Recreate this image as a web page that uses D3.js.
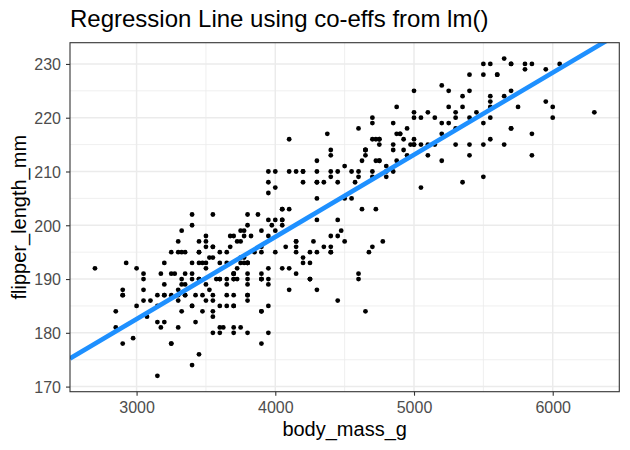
<!DOCTYPE html>
<html>
<head>
<meta charset="utf-8">
<script src="https://cdn.jsdelivr.net/npm/d3@7"></script>
<style>
  html, body { margin: 0; padding: 0; background: #fff; }
  svg { display: block; }
  text { font-family: "Liberation Sans", Arial, Helvetica, sans-serif; }
</style>
</head>
<body>
<svg id="chart" width="630" height="450"></svg>
<script>
// ---- data (Palmer penguins: body_mass_g vs flipper_length_mm) ----
const bodyMass = [
  3750,3800,3250,3450,3650,3625,4675,3475,4250,3300,3700,3200,3800,4400,3700,3450,4500,3325,4200,
  3400,3600,3800,3950,3800,3800,3550,3200,3150,3950,
  3250,3900,3300,3900,3325,4150,3950,3550,3300,4650,3150,3900,3100,4400,3000,4600,3425,2975,3450,4150,
  3500,4300,3450,4050,2900,3700,3550,3800,2850,3750,3150,4400,3600,4050,2850,3950,3350,4100,
  3050,4450,3600,3900,3550,4150,3700,4250,3700,3900,3550,4000,3200,4700,3800,4200,
  3350,3550,3800,3500,3950,3600,3550,4300,3400,4450,3300,4300,3700,4350,2900,4100,
  3725,4725,3075,4250,2925,3550,3750,3900,3175,4775,3825,4600,3200,4275,3900,4075,
  2900,3775,3350,3325,3150,3500,3450,3875,3050,4000,3275,4300,3050,4000,3325,3500,
  3500,4475,3425,3900,3175,3975,3400,4250,3400,3475,3050,3725,3000,3650,4250,3475,3450,3750,3700,4000,
  4500,5700,4450,5700,5400,4550,4800,5200,4400,5150,
  4650,5550,4650,5850,4200,5850,4150,6300,4800,5350,
  5700,5000,4400,5050,5000,5100,4100,5650,4600,5550,
  5250,4700,5050,6050,5150,5400,4950,5250,4350,5350,
  3950,5700,4300,4750,5550,4900,4200,5400,5100,5300,
  4850,5300,4400,5000,4900,5050,4300,5000,4450,5550,
  4200,5300,4400,5650,4700,5700,4650,5800,4700,5550,
  4750,5000,5100,5200,4700,5800,4600,6000,4750,5950,
  4625,5450,4725,5350,4750,5600,4600,5300,4875,5550,
  4950,5400,4750,5650,4850,5200,4925,4875,4625,5250,
  4850,5600,4975,5500,4725,5500,4700,5500,4575,5500,
  5000,5950,4650,5500,4375,5850,4875,6000,4925,
  4850,5750,5200,5400,
  3500,3900,3650,3525,3725,3950,3250,3750,4150,3700,
  3800,3775,3700,4050,3575,4050,3300,3700,3450,4400,
  3600,3400,2900,3800,3300,4150,3400,3800,3700,4550,
  3200,4300,3350,4100,3600,3900,3850,4800,2700,4500,
  3950,3650,3550,3500,3675,4450,3400,4300,3250,3675,
  3325,3950,3600,4050,3350,3450,3250,4050,3800,3525,
  3950,3650,3650,4000,3400,3775,4100,3775
];
const flipperLength = [
  181,186,195,193,190,181,195,193,190,186,180,182,191,198,185,195,197,184,194,
  174,180,189,185,180,187,183,187,172,180,
  178,178,188,184,195,196,190,180,181,184,182,195,186,196,185,190,182,179,190,191,
  186,188,190,200,187,191,186,193,181,194,185,195,185,192,184,192,195,188,
  190,198,190,190,196,197,190,195,191,184,187,195,189,196,187,193,
  191,194,190,189,189,190,202,205,185,186,187,208,190,196,178,192,
  192,203,183,190,193,184,199,190,181,197,198,191,193,197,191,196,
  188,199,189,189,187,198,176,202,186,199,191,195,191,210,190,197,
  193,199,187,190,191,200,185,193,193,187,188,190,192,185,190,184,195,193,187,201,
  211,230,210,218,215,210,211,219,209,215,
  214,216,214,213,210,217,210,221,209,222,
  218,215,213,215,215,215,216,215,210,220,
  222,209,207,230,220,220,213,219,208,208,
  208,225,210,216,222,217,210,225,213,215,
  210,220,210,225,217,220,208,220,208,224,
  208,221,214,231,219,230,214,229,220,223,
  216,221,221,217,216,230,209,220,215,223,
  212,221,212,224,212,228,218,218,212,230,
  218,228,212,224,214,226,216,222,203,225,
  219,228,215,228,216,215,210,219,208,209,
  216,229,213,230,217,230,217,222,214,
  215,222,212,213,
  192,196,193,188,197,198,178,197,195,198,
  193,194,185,201,190,201,197,181,190,195,
  181,191,187,193,195,197,200,200,191,205,
  187,201,187,203,195,199,195,210,192,205,
  210,187,196,196,196,201,190,212,187,198,
  199,201,193,203,187,197,191,203,202,194,
  206,189,195,207,202,193,210,198
];
// coefficients of lm(flipper_length_mm ~ body_mass_g)
const lmIntercept = 136.7296;
const lmSlope = 0.01527592;

const xTicks = [3000, 4000, 5000, 6000];
const xMinor = [3500, 4500, 5500];
const yTicks = [170, 180, 190, 200, 210, 220, 230];
const yMinor = [175, 185, 195, 205, 215, 225];

const titleText = "Regression Line using co-effs from lm()";
const xLabel = "body_mass_g";
const yLabel = "flipper_length_mm";

// ---- layout ----
const P = { left: 70, right: 619.3, top: 42.7, bottom: 391.7 };
const svg = d3.select("#chart");

const xr = d3.extent(bodyMass), yr = d3.extent(flipperLength);
const xpad = (xr[1] - xr[0]) * 0.05, ypad = (yr[1] - yr[0]) * 0.05;
const x = d3.scaleLinear().domain([xr[0] - xpad, xr[1] + xpad]).range([P.left, P.right]);
const y = d3.scaleLinear().domain([yr[0] - ypad, yr[1] + ypad]).range([P.bottom, P.top]);

svg.append("rect").attr("width", 630).attr("height", 450).attr("fill", "#fff");

const grid = svg.append("g");
grid.selectAll(".xmin").data(xMinor).join("line")
  .attr("x1", d => x(d)).attr("x2", d => x(d)).attr("y1", P.top).attr("y2", P.bottom)
  .attr("stroke", "#EBEBEB").attr("stroke-width", 0.8);
grid.selectAll(".ymin").data(yMinor).join("line")
  .attr("y1", d => y(d)).attr("y2", d => y(d)).attr("x1", P.left).attr("x2", P.right)
  .attr("stroke", "#EBEBEB").attr("stroke-width", 0.8);
grid.selectAll(".xmaj").data(xTicks).join("line")
  .attr("x1", d => x(d)).attr("x2", d => x(d)).attr("y1", P.top).attr("y2", P.bottom)
  .attr("stroke", "#EBEBEB").attr("stroke-width", 1.5);
grid.selectAll(".ymaj").data(yTicks).join("line")
  .attr("y1", d => y(d)).attr("y2", d => y(d)).attr("x1", P.left).attr("x2", P.right)
  .attr("stroke", "#EBEBEB").attr("stroke-width", 1.5);

svg.append("clipPath").attr("id", "clip").append("rect")
  .attr("x", P.left).attr("y", P.top).attr("width", P.right - P.left).attr("height", P.bottom - P.top);

const pts = bodyMass.map((m, i) => [m, flipperLength[i]]);
svg.append("g").selectAll("circle").data(pts).join("circle")
  .attr("cx", d => x(d[0])).attr("cy", d => y(d[1])).attr("r", 2.4).attr("fill", "#000");

const xd = x.domain();
svg.append("line").attr("clip-path", "url(#clip)")
  .attr("x1", x(xd[0])).attr("y1", y(lmIntercept + lmSlope * xd[0]))
  .attr("x2", x(xd[1])).attr("y2", y(lmIntercept + lmSlope * xd[1]))
  .attr("stroke", "#1E90FF").attr("stroke-width", 4.6);

svg.append("rect").attr("x", P.left).attr("y", P.top)
  .attr("width", P.right - P.left).attr("height", P.bottom - P.top)
  .attr("fill", "none").attr("stroke", "#333333").attr("stroke-width", 1.1);

// axes
const xAxis = svg.append("g").attr("transform", `translate(0,${P.bottom})`)
  .call(d3.axisBottom(x).tickValues(xTicks).tickSize(4).tickPadding(6).tickFormat(d3.format("d")));
const yAxis = svg.append("g").attr("transform", `translate(${P.left},0)`)
  .call(d3.axisLeft(y).tickValues(yTicks).tickSize(4).tickPadding(5).tickFormat(d3.format("d")));
[xAxis, yAxis].forEach(a => {
  a.select(".domain").remove();
  a.selectAll(".tick line").attr("stroke", "#333333").attr("stroke-width", 1.1);
  a.selectAll(".tick text").attr("fill", "#4D4D4D").style("font-size", "16px")
    .style("font-family", '"Liberation Sans", Arial, Helvetica, sans-serif');
});
yAxis.selectAll(".tick text").attr("dy", "0.36em");

svg.append("text").attr("x", (P.left + P.right) / 2).attr("y", 436.3)
  .attr("text-anchor", "middle").style("font-size", "20px").attr("fill", "#000").text(xLabel);
svg.append("text").attr("transform", `translate(25.5,${(P.top + P.bottom) / 2}) rotate(-90)`)
  .attr("text-anchor", "middle").style("font-size", "20px").attr("fill", "#000").text(yLabel);
svg.append("text").attr("x", 70).attr("y", 27.3)
  .style("font-size", "24px").attr("fill", "#000").text(titleText);
</script>
</body>
</html>
